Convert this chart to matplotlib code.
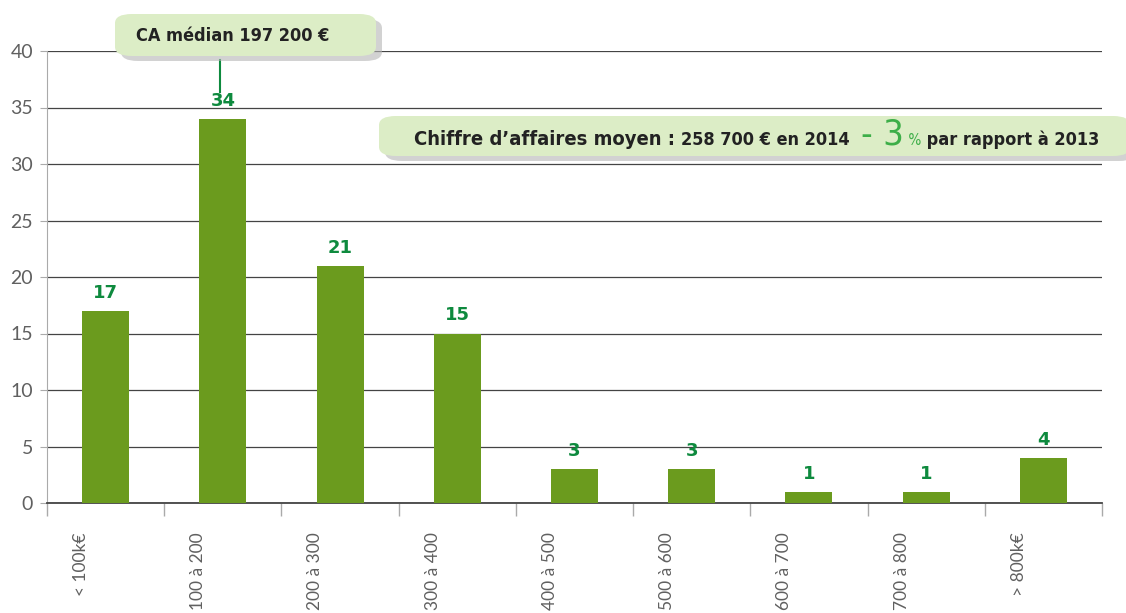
import matplotlib.pyplot as plt
import matplotlib.transforms as mtransforms
from matplotlib.patches import FancyBboxPatch
import numpy as np

# data
categories = ['< 100k€', '100 à 200', '200 à 300', '300 à 400', '400 à 500',
              '500 à 600', '600 à 700', '700 à 800', '> 800k€']
values = [17, 34, 21, 15, 3, 3, 1, 1, 4]
yticks = [0, 5, 10, 15, 20, 25, 30, 35, 40]

bar_color = '#6b9b1e'
label_green = '#0e8a3e'
box_color = '#dcedc6'
dark = '#222222'
light_font = ['Lato', 'DejaVu Sans']

W, H = 1126, 613
fig = plt.figure(figsize=(W / 100, H / 100), dpi=100)
ax = fig.add_axes([47 / W, 1 - 503 / H, (1102 - 47) / W, (503 - 51) / H])

x = np.arange(len(categories))
ax.bar(x, values, width=0.4, color=bar_color, zorder=3)
ax.set_xlim(-0.5, len(categories) - 0.5)
ax.set_ylim(0, 40)

# gridlines
ax.set_yticks(yticks)
ax.yaxis.grid(True, color='#444444', linewidth=0.9, zorder=0)
ax.set_axisbelow(True)

# spines
for s in ['top', 'right']:
    ax.spines[s].set_visible(False)
ax.spines['left'].set_color('#aaaaaa')
ax.spines['bottom'].set_color('#444444')
ax.spines['bottom'].set_linewidth(1.3)

ax.tick_params(axis='y', color='#aaaaaa', length=5, pad=5)
ax.tick_params(axis='y', labelcolor='#606060', labelsize=14)
for lab in ax.get_yticklabels():
    lab.set_family(light_font)

# x ticks at boundaries between categories
ax.set_xticks(np.arange(-0.5, len(categories)))
ax.set_xticklabels([])
ax.tick_params(axis='x', color='#aaaaaa', length=9, width=1)

# category labels, rotated and shifted left of the bar centre
tr = mtransforms.blended_transform_factory(ax.transData, ax.transAxes)
for i, c in enumerate(categories):
    ax.text(i - 0.21, -0.065, c, rotation=90, ha='center', va='top',
            fontsize=12.5, color='#606060', family=light_font,
            transform=tr)

# value labels
for i, v in enumerate(values):
    ax.text(i, v + 0.8, str(v), ha='center', va='bottom', fontsize=13,
            fontweight='bold', color=label_green)


def px_box(x0, y0, x1, y1):
    # rounded box with a soft shadow, given in image pixel coordinates
    shadow = FancyBboxPatch((x0 / W + 6 / W, 1 - y1 / H - 5 / H), (x1 - x0) / W, (y1 - y0) / H,
                            boxstyle='round,pad=0,rounding_size=0.015',
                            transform=fig.transFigure, facecolor='#b5b5b5', edgecolor='none',
                            alpha=0.6, zorder=5)
    box = FancyBboxPatch((x0 / W, 1 - y1 / H), (x1 - x0) / W, (y1 - y0) / H,
                         boxstyle='round,pad=0,rounding_size=0.015',
                         transform=fig.transFigure, facecolor=box_color, edgecolor='none',
                         zorder=6)
    fig.patches.extend([shadow, box])


# median box
px_box(115, 14, 376, 56)
fig.text(136 / W, 1 - 36 / H, 'CA médian 197 200 €', ha='left', va='center',
         fontsize=13, fontweight='bold', fontstretch='condensed', color=dark,
         family='DejaVu Sans', zorder=7)
fig.add_artist(plt.Line2D([220 / W, 220 / W], [1 - 60 / H, 1 - 92 / H],
                          transform=fig.transFigure, color=label_green, linewidth=1.5))

# mean box
px_box(379, 116, 1130, 156)
fig.canvas.draw()
renderer = fig.canvas.get_renderer()
pieces = [
    ('Chiffre d\u2019affaires moyen : ', 14.5, 'bold', dark),
    ('258 700 € en 2014  ', 13, 'bold', dark),
    ('- 3', 26, 'light', '#3dae48'),
    (' %', 11, 'normal', '#3dae48'),
    (' par rapport à 2013', 13, 'bold', dark),
]
xpos = 414
ybase = 1 - 145 / H
for txt, size, weight, col in pieces:
    t = fig.text(xpos / W, ybase, txt, ha='left', va='baseline', fontsize=size,
                 fontweight=weight, color=col, fontstretch='condensed',
                 family='DejaVu Sans', zorder=7)
    bb = t.get_window_extent(renderer=renderer)
    xpos = bb.x1

fig.savefig('out.png', dpi=100)
